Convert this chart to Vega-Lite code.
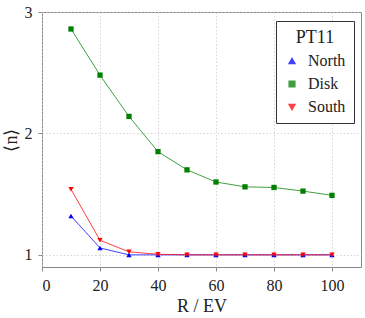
{
  "$schema": "https://vega.github.io/schema/vega-lite/v6.json",
  "width": 319,
  "height": 255,
  "autosize": {"type": "none"},
  "padding": {"left": 42, "top": 12, "right": 4, "bottom": 51},
  "background": "white",
  "config": {
    "font": "Liberation Serif",
    "view": {"stroke": "#888888", "strokeWidth": 1},
    "axis": {
      "labelFont": "Liberation Serif",
      "titleFont": "Liberation Serif",
      "labelFontSize": 16,
      "titleFontSize": 18,
      "titleFontWeight": "normal",
      "labelColor": "#222",
      "titleColor": "#222",
      "domain": false,
      "gridColor": "#cccccc",
      "gridDash": [1.5, 2],
      "gridWidth": 0.8,
      "tickColor": "#888888",
      "tickSize": 4,
      "labelPadding": 6
    },
    "legend": {
      "labelFont": "Liberation Serif",
      "titleFont": "Liberation Serif",
      "titleFontSize": 18,
      "titleFontWeight": "normal",
      "titleColor": "#222",
      "titleAnchor": "middle",
      "titlePadding": 6,
      "labelFontSize": 16,
      "labelColor": "#222",
      "labelOffset": 8,
      "symbolSize": 32,
      "rowPadding": 7,
      "padding": 8,
      "strokeColor": "#333",
      "fillColor": "white",
      "orient": "none",
      "legendX": 234,
      "legendY": 9
    }
  },
  "data": {
    "values": [
      {"R": 10, "n": 1.32, "s": "North"},
      {"R": 20, "n": 1.057, "s": "North"},
      {"R": 30, "n": 1.0, "s": "North"},
      {"R": 40, "n": 1.0, "s": "North"},
      {"R": 50, "n": 1.0, "s": "North"},
      {"R": 60, "n": 1.0, "s": "North"},
      {"R": 70, "n": 1.0, "s": "North"},
      {"R": 80, "n": 1.0, "s": "North"},
      {"R": 90, "n": 1.0, "s": "North"},
      {"R": 100, "n": 1.0, "s": "North"},
      {"R": 10, "n": 2.86, "s": "Disk"},
      {"R": 20, "n": 2.48, "s": "Disk"},
      {"R": 30, "n": 2.14, "s": "Disk"},
      {"R": 40, "n": 1.85, "s": "Disk"},
      {"R": 50, "n": 1.7, "s": "Disk"},
      {"R": 60, "n": 1.6, "s": "Disk"},
      {"R": 70, "n": 1.56, "s": "Disk"},
      {"R": 80, "n": 1.555, "s": "Disk"},
      {"R": 90, "n": 1.525, "s": "Disk"},
      {"R": 100, "n": 1.49, "s": "Disk"},
      {"R": 10, "n": 1.54, "s": "South"},
      {"R": 20, "n": 1.12, "s": "South"},
      {"R": 30, "n": 1.025, "s": "South"},
      {"R": 40, "n": 1.005, "s": "South"},
      {"R": 50, "n": 1.0, "s": "South"},
      {"R": 60, "n": 1.0, "s": "South"},
      {"R": 70, "n": 1.0, "s": "South"},
      {"R": 80, "n": 1.0, "s": "South"},
      {"R": 90, "n": 1.0, "s": "South"},
      {"R": 100, "n": 1.0, "s": "South"}
    ]
  },
  "encoding": {
    "x": {
      "field": "R", "type": "quantitative",
      "scale": {"domain": [0, 110], "nice": false},
      "axis": {"values": [0, 20, 40, 60, 80, 100], "title": "R / EV", "titlePadding": 4, "grid": true}
    },
    "y": {
      "field": "n", "type": "quantitative",
      "scale": {"domain": [0.9, 3.0], "nice": false, "zero": false},
      "axis": {"values": [1, 2, 3], "format": ".0f", "labelOverlap": false, "title": "⟨n⟩", "titlePadding": 4, "grid": true}
    },
    "color": {
      "field": "s", "type": "nominal",
      "scale": {"domain": ["North", "Disk", "South"], "range": ["#0000ff", "#008000", "#ff0000"]},
      "legend": {"title": "PT11"}
    }
  },
  "layer": [
    {
      "mark": {"type": "line", "strokeWidth": 1, "opacity": 0.75}
    },
    {
      "mark": {"type": "point", "filled": true, "opacity": 1, "size": 28},
      "encoding": {
        "shape": {
          "field": "s", "type": "nominal",
          "scale": {"domain": ["North", "Disk", "South"], "range": ["triangle-up", "square", "triangle-down"]},
          "legend": {"title": "PT11"}
        }
      }
    }
  ]
}
